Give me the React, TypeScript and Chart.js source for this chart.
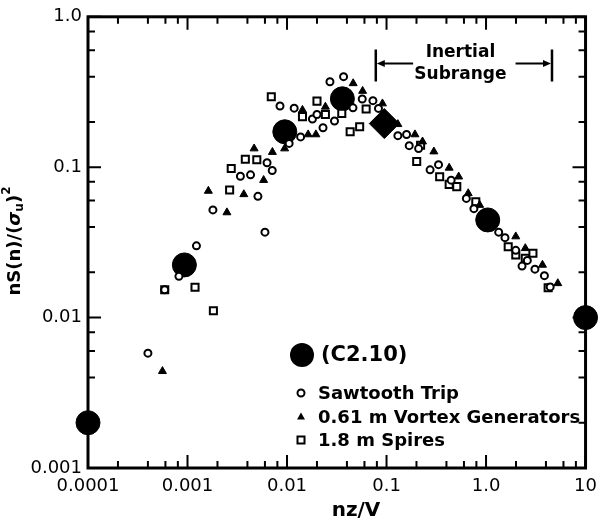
import React, { useEffect, useRef } from 'react';
import { Chart, registerables } from 'chart.js';

Chart.register(...registerables);

// ---- axes ----
const X_MAJOR = [0.0001, 0.001, 0.01, 0.1, 1, 10];
const X_LABELS = ['0.0001', '0.001', '0.01', '0.1', '1.0', '10'];
const Y_MAJOR = [0.001, 0.01, 0.1, 1];
const Y_LABELS = ['0.001', '0.01', '0.1', '1.0'];
const MINOR_MULTIPLIERS = [2, 4, 6, 8];

// ---- series: Sawtooth Trip (open circles) ----
const SAWTOOTH_X = [0.0004, 0.00059, 0.00082, 0.00123, 0.0018, 0.0034, 0.0043, 0.0051, 0.006, 0.0063, 0.0071, 0.0085, 0.0118, 0.0105, 0.0137, 0.018, 0.02, 0.023, 0.027, 0.03, 0.037, 0.046, 0.057, 0.073, 0.083, 0.13, 0.159, 0.169, 0.21, 0.274, 0.333, 0.446, 0.634, 0.755, 1.34, 1.55, 1.99, 2.3, 2.6, 3.1, 3.86, 4.41];
const SAWTOOTH_Y = [0.0058, 0.0153, 0.0188, 0.03, 0.052, 0.087, 0.089, 0.064, 0.037, 0.107, 0.095, 0.255, 0.247, 0.144, 0.159, 0.209, 0.224, 0.183, 0.37, 0.203, 0.4, 0.248, 0.284, 0.277, 0.246, 0.162, 0.165, 0.139, 0.133, 0.096, 0.104, 0.082, 0.062, 0.053, 0.037, 0.034, 0.028, 0.022, 0.024, 0.021, 0.019, 0.016];

// ---- series: 0.61 m Vortex Generators (filled triangles) ----
const VORTEX_X = [0.00056, 0.00162, 0.00249, 0.00368, 0.00467, 0.00582, 0.00713, 0.00946, 0.0143, 0.0163, 0.0195, 0.0243, 0.0462, 0.0575, 0.091, 0.13, 0.193, 0.23, 0.299, 0.426, 0.531, 0.662, 0.863, 1.23, 1.99, 2.48, 3.69, 5.26];
const VORTEX_Y = [0.0044, 0.0695, 0.05, 0.066, 0.133, 0.082, 0.126, 0.133, 0.24, 0.165, 0.165, 0.252, 0.361, 0.321, 0.265, 0.193, 0.165, 0.148, 0.127, 0.099, 0.0865, 0.067, 0.056, 0.0445, 0.0346, 0.0289, 0.0224, 0.0169];

// ---- series: 1.8 m Spires (open squares) ----
const SPIRES_X = [0.00059, 0.00119, 0.00182, 0.00265, 0.00275, 0.00381, 0.00497, 0.00695, 0.0143, 0.02, 0.0243, 0.0355, 0.0431, 0.0537, 0.0624, 0.201, 0.22, 0.342, 0.426, 0.508, 0.789, 1.67, 1.99, 2.48, 2.96, 4.21];
const SPIRES_Y = [0.0153, 0.0159, 0.0111, 0.0706, 0.098, 0.113, 0.112, 0.294, 0.217, 0.275, 0.224, 0.228, 0.172, 0.186, 0.244, 0.109, 0.14, 0.0865, 0.0769, 0.0743, 0.059, 0.0296, 0.0261, 0.0248, 0.0268, 0.0158];

// ---- series: (C2.10) (large filled dots) ----
const C210_X = [0.0001, 0.00093, 0.0095, 0.036, 0.095, 1.04, 10];
const C210_Y = [0.002, 0.0224, 0.172, 0.285, 0.195, 0.0446, 0.01];
const C210_STYLE = ['circle', 'circle', 'circle', 'circle', 'rectRot', 'circle', 'circle'];

// ---- "Inertial Subrange" annotation (data coordinates) ----
const INERTIAL_START = 0.078;
const INERTIAL_END = 4.6;
const INERTIAL_BAR_TOP = 0.607;
const INERTIAL_BAR_BOTTOM = 0.372;
const INERTIAL_ARROW_Y = 0.49;
const INERTIAL_ARROW_LEFT_END = 0.185;
const INERTIAL_ARROW_RIGHT_START = 1.98;
const INERTIAL_TEXT_X = 0.553;
const INERTIAL_TEXT_Y1 = 0.58;
const INERTIAL_TEXT_Y2 = 0.414;
const INERTIAL_LINES = ['Inertial', 'Subrange'];

const LEGEND_ITEMS = ['Sawtooth Trip', '0.61 m Vortex Generators', '1.8 m Spires'];
const LEGEND_MAIN = '(C2.10)';
const X_TITLE = 'nz/V';

const FONT = 'DejaVu Sans';

function buildTicks(majors: number[]) {
  const out: { value: number; major: boolean }[] = [];
  majors.forEach((m, i) => {
    out.push({ value: m, major: true });
    if (i < majors.length - 1) {
      MINOR_MULTIPLIERS.forEach((k) => out.push({ value: m * k, major: false }));
    }
  });
  return out;
}

function labelFor(value: number, majors: number[], labels: string[]) {
  const i = majors.findIndex((v) => Math.abs(v - value) / v < 1e-6);
  return i >= 0 ? labels[i] : '';
}

function zip(xs: number[], ys: number[]) {
  return xs.map((x, i) => ({ x, y: ys[i] }));
}

const decorPlugin = {
  id: 'decor',
  afterDraw(chart: any) {
    const ctx = chart.ctx as CanvasRenderingContext2D;
    const { left, right, top, bottom } = chart.chartArea;
    const xs = chart.scales.x;
    const ys = chart.scales.y;
    ctx.save();
    ctx.strokeStyle = '#000';
    ctx.fillStyle = '#000';

    // frame
    ctx.lineWidth = 3;
    ctx.lineCap = 'square';
    ctx.strokeRect(left, top, right - left, bottom - top);

    // inward ticks
    ctx.lineWidth = 2;
    ctx.lineCap = 'butt';
    xs.ticks.forEach((t: any) => {
      const px = xs.getPixelForValue(t.value);
      const len = t.major ? 13 : 7;
      ctx.beginPath();
      ctx.moveTo(px, bottom);
      ctx.lineTo(px, bottom - len);
      ctx.moveTo(px, top);
      ctx.lineTo(px, top + len);
      ctx.stroke();
    });
    ys.ticks.forEach((t: any) => {
      const py = ys.getPixelForValue(t.value);
      const len = t.major ? 13 : 7;
      ctx.beginPath();
      ctx.moveTo(left, py);
      ctx.lineTo(left + len, py);
      ctx.moveTo(right, py);
      ctx.lineTo(right - len, py);
      ctx.stroke();
    });

    // Inertial subrange annotation
    const xl = xs.getPixelForValue(INERTIAL_START);
    const xr = xs.getPixelForValue(INERTIAL_END);
    const yt = ys.getPixelForValue(INERTIAL_BAR_TOP);
    const yb = ys.getPixelForValue(INERTIAL_BAR_BOTTOM);
    const ya = ys.getPixelForValue(INERTIAL_ARROW_Y);
    const xle = xs.getPixelForValue(INERTIAL_ARROW_LEFT_END);
    const xrs = xs.getPixelForValue(INERTIAL_ARROW_RIGHT_START);
    ctx.lineWidth = 2.5;
    ctx.beginPath();
    ctx.moveTo(xl, yt);
    ctx.lineTo(xl, yb);
    ctx.moveTo(xr, yt);
    ctx.lineTo(xr, yb);
    ctx.stroke();
    ctx.lineWidth = 2;
    ctx.beginPath();
    ctx.moveTo(xl + 6, ya);
    ctx.lineTo(xle, ya);
    ctx.moveTo(xrs, ya);
    ctx.lineTo(xr - 6, ya);
    ctx.stroke();
    ctx.beginPath();
    ctx.moveTo(xl + 1, ya);
    ctx.lineTo(xl + 9, ya - 3.5);
    ctx.lineTo(xl + 9, ya + 3.5);
    ctx.closePath();
    ctx.moveTo(xr - 1, ya);
    ctx.lineTo(xr - 9, ya - 3.5);
    ctx.lineTo(xr - 9, ya + 3.5);
    ctx.closePath();
    ctx.fill();

    ctx.font = `bold 17px "${FONT}"`;
    ctx.textAlign = 'center';
    ctx.textBaseline = 'middle';
    const tx = xs.getPixelForValue(INERTIAL_TEXT_X);
    ctx.fillText(INERTIAL_LINES[0], tx, ys.getPixelForValue(INERTIAL_TEXT_Y1));
    ctx.fillText(INERTIAL_LINES[1], tx, ys.getPixelForValue(INERTIAL_TEXT_Y2));

    // legend
    const mx = 301;
    ctx.beginPath();
    ctx.arc(mx + 1, 355, 12, 0, Math.PI * 2);
    ctx.fill();
    ctx.textAlign = 'left';
    ctx.font = `bold 21px "${FONT}"`;
    ctx.fillText(LEGEND_MAIN, 321, 356);
    ctx.font = `bold 18px "${FONT}"`;
    const rows = [393, 417, 440];
    LEGEND_ITEMS.forEach((txt, i) => ctx.fillText(txt, 318, rows[i] + 1));
    // circle marker
    ctx.lineWidth = 2;
    ctx.beginPath();
    ctx.arc(mx, rows[0], 3.5, 0, Math.PI * 2);
    ctx.stroke();
    // triangle marker
    ctx.beginPath();
    ctx.moveTo(mx, rows[1] - 4.5);
    ctx.lineTo(mx + 4, rows[1] + 2.5);
    ctx.lineTo(mx - 4, rows[1] + 2.5);
    ctx.closePath();
    ctx.fill();
    // square marker
    ctx.strokeRect(mx - 3.5, rows[2] - 3.5, 7, 7);

    // x title
    ctx.font = `bold 20px "${FONT}"`;
    ctx.textAlign = 'center';
    ctx.fillText(X_TITLE, 356, 511);

    // y title (rotated, with subscript / superscript)
    ctx.save();
    ctx.translate(15, 241);
    ctx.rotate(-Math.PI / 2);
    const segs = [
      { t: 'nS(n)/(', f: `bold 18px "${FONT}"`, dy: 0 },
      { t: 'σ', f: `italic bold 18px "${FONT}"`, dy: 0 },
      { t: 'u', f: `bold 12px "${FONT}"`, dy: 5 },
      { t: ')', f: `bold 18px "${FONT}"`, dy: 0 },
      { t: '2', f: `bold 12px "${FONT}"`, dy: -8 },
    ];
    let total = 0;
    segs.forEach((s) => {
      ctx.font = s.f;
      total += ctx.measureText(s.t).width;
    });
    let cx = -total / 2;
    ctx.textAlign = 'left';
    ctx.textBaseline = 'middle';
    segs.forEach((s) => {
      ctx.font = s.f;
      ctx.fillText(s.t, cx, s.dy);
      cx += ctx.measureText(s.t).width;
    });
    ctx.restore();

    ctx.restore();
  },
};

export default function App() {
  const ref = useRef<HTMLCanvasElement | null>(null);

  useEffect(() => {
    document.body.style.margin = '0';
    const canvas = ref.current;
    if (!canvas) return;
    const tickFont = { family: FONT, size: 18 };
    const chart = new Chart(canvas, {
      type: 'scatter',
      data: {
        datasets: [
          {
            label: 'Sawtooth Trip',
            data: zip(SAWTOOTH_X, SAWTOOTH_Y),
            pointStyle: 'circle',
            pointRadius: 3.5,
            pointBackgroundColor: '#fff',
            pointBorderColor: '#000',
            pointBorderWidth: 2,
          },
          {
            label: '0.61 m Vortex Generators',
            data: zip(VORTEX_X, VORTEX_Y),
            pointStyle: 'triangle',
            pointRadius: 4.6,
            pointBackgroundColor: '#000',
            pointBorderColor: '#000',
            pointBorderWidth: 1,
          },
          {
            label: '1.8 m Spires',
            data: zip(SPIRES_X, SPIRES_Y),
            pointStyle: 'rect',
            pointRadius: 5,
            pointBackgroundColor: '#fff',
            pointBorderColor: '#000',
            pointBorderWidth: 2,
          },
          {
            label: '(C2.10)',
            data: zip(C210_X, C210_Y),
            pointStyle: C210_STYLE as any,
            pointRadius: C210_STYLE.map((s) => (s === 'rectRot' ? 15 : 12)),
            pointBackgroundColor: '#000',
            pointBorderColor: '#000',
            pointBorderWidth: 1,
            clip: false as any,
          },
        ],
      },
      options: {
        responsive: false,
        animation: false,
        devicePixelRatio: 1,
        layout: { padding: { top: 14, right: 12, left: 0, bottom: 0 } },
        plugins: { legend: { display: false }, tooltip: { enabled: false } },
        scales: {
          x: {
            type: 'logarithmic',
            position: 'bottom',
            min: 0.0001,
            max: 10,
            afterBuildTicks: (s: any) => {
              s.ticks = buildTicks(X_MAJOR);
            },
            afterFit: (s: any) => {
              s.height = 54;
            },
            grid: { display: false, drawTicks: false },
            border: { display: false },
            ticks: {
              autoSkip: false,
              maxRotation: 0,
              minRotation: 0,
              padding: 8,
              color: '#000',
              font: tickFont,
              callback: (v: any) => labelFor(Number(v), X_MAJOR, X_LABELS),
            },
          },
          y: {
            type: 'logarithmic',
            position: 'left',
            min: 0.001,
            max: 1,
            afterBuildTicks: (s: any) => {
              s.ticks = buildTicks(Y_MAJOR);
            },
            afterFit: (s: any) => {
              s.width = 88;
            },
            grid: { display: false, drawTicks: false },
            border: { display: false },
            ticks: {
              autoSkip: false,
              padding: 6,
              color: '#000',
              font: tickFont,
              callback: (v: any) => labelFor(Number(v), Y_MAJOR, Y_LABELS),
            },
          },
        },
      } as any,
      plugins: [decorPlugin],
    });
    return () => chart.destroy();
  }, []);

  return (
    <div style={{ width: 605, height: 522 }}>
      <canvas ref={ref} width={605} height={522} style={{ display: 'block', width: 605, height: 522 }} />
    </div>
  );
}
